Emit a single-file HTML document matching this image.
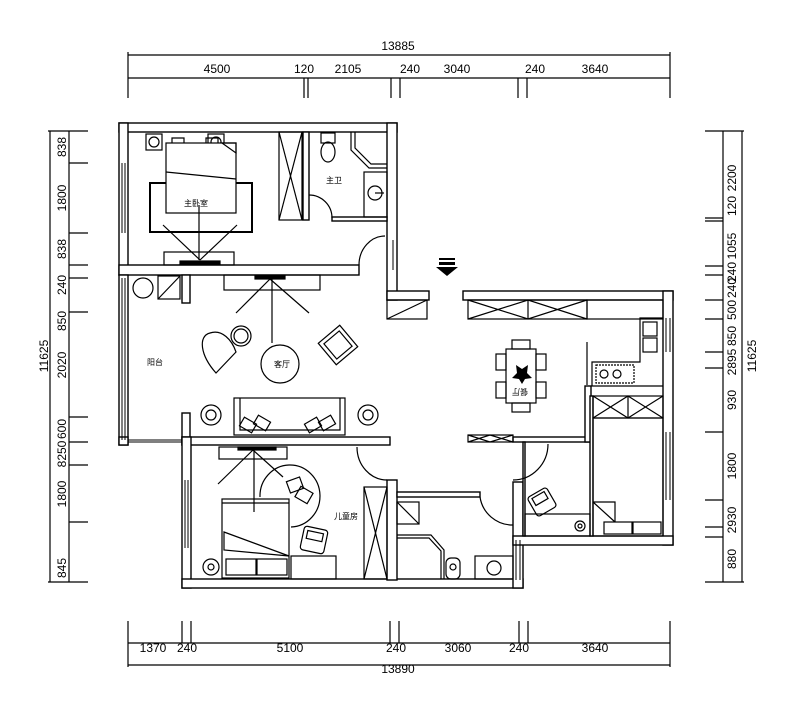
<!DOCTYPE html>
<html><head><meta charset="utf-8"><style>
body{margin:0;background:#fff}
svg{display:block}
text{font-family:"Liberation Sans","Noto Sans CJK SC",sans-serif;fill:#000}
</style></head><body>
<svg width="800" height="721" viewBox="0 0 800 721" xmlns="http://www.w3.org/2000/svg">
<g stroke="#000" stroke-width="1.2" fill="none">
<line x1="128" y1="55" x2="670" y2="55"/><line x1="128" y1="78" x2="670" y2="78"/>
<line x1="128" y1="52" x2="128" y2="98"/><line x1="670" y1="52" x2="670" y2="98"/>
<line x1="304" y1="78" x2="304" y2="98"/><line x1="308" y1="78" x2="308" y2="98"/>
<line x1="391" y1="78" x2="391" y2="98"/><line x1="400" y1="78" x2="400" y2="98"/>
<line x1="518" y1="78" x2="518" y2="98"/><line x1="527" y1="78" x2="527" y2="98"/>
<line x1="128" y1="643" x2="670" y2="643"/><line x1="128" y1="665" x2="670" y2="665"/>
<line x1="128" y1="621" x2="128" y2="667"/><line x1="670" y1="621" x2="670" y2="667"/>
<line x1="182" y1="621" x2="182" y2="643"/><line x1="191" y1="621" x2="191" y2="643"/>
<line x1="390" y1="621" x2="390" y2="643"/><line x1="399" y1="621" x2="399" y2="643"/>
<line x1="519" y1="621" x2="519" y2="643"/><line x1="528" y1="621" x2="528" y2="643"/>
<line x1="50" y1="131" x2="50" y2="582"/><line x1="69" y1="131" x2="69" y2="582"/>
<g>
<line x1="48" y1="131" x2="88" y2="131"/><line x1="48" y1="582" x2="88" y2="582"/>
<line x1="69" y1="163" x2="88" y2="163"/><line x1="69" y1="233" x2="88" y2="233"/>
<line x1="69" y1="265" x2="88" y2="265"/><line x1="69" y1="278" x2="88" y2="278"/>
<line x1="69" y1="312" x2="88" y2="312"/><line x1="69" y1="417" x2="88" y2="417"/>
<line x1="69" y1="442" x2="88" y2="442"/><line x1="69" y1="465" x2="88" y2="465"/>
<line x1="69" y1="522" x2="88" y2="522"/>
</g>
<line x1="723" y1="131" x2="723" y2="582"/><line x1="742" y1="131" x2="742" y2="582"/>
<line x1="705" y1="131" x2="744" y2="131"/><line x1="705" y1="582" x2="744" y2="582"/>
<line x1="705" y1="218" x2="723" y2="218"/><line x1="705" y1="221" x2="723" y2="221"/>
<line x1="705" y1="266" x2="723" y2="266"/><line x1="705" y1="275" x2="723" y2="275"/>
<line x1="705" y1="300" x2="723" y2="300"/><line x1="705" y1="319" x2="723" y2="319"/>
<line x1="705" y1="352" x2="723" y2="352"/><line x1="705" y1="368" x2="723" y2="368"/>
<line x1="705" y1="432" x2="723" y2="432"/><line x1="705" y1="500" x2="723" y2="500"/>
<line x1="705" y1="527" x2="723" y2="527"/><line x1="705" y1="537" x2="723" y2="537"/>
</g>
<g font-size="12" text-anchor="middle">
<text x="398" y="50">13885</text>
<text x="217" y="73">4500</text><text x="304" y="73">120</text><text x="348" y="73">2105</text>
<text x="410" y="73">240</text><text x="457" y="73">3040</text><text x="535" y="73">240</text><text x="595" y="73">3640</text>
<text x="153" y="652">1370</text><text x="187" y="652">240</text><text x="290" y="652">5100</text>
<text x="396" y="652">240</text><text x="458" y="652">3060</text><text x="519" y="652">240</text><text x="595" y="652">3640</text>
<text x="398" y="673">13890</text>
</g>
<g font-size="12" text-anchor="middle">
<g transform="translate(66,0)">
<text transform="translate(0,147) rotate(-90)">838</text><text transform="translate(0,198) rotate(-90)">1800</text>
<text transform="translate(0,249) rotate(-90)">838</text><text transform="translate(0,285) rotate(-90)">240</text>
<text transform="translate(0,321) rotate(-90)">850</text><text transform="translate(0,365) rotate(-90)">2020</text>
<text transform="translate(0,429) rotate(-90)">600</text><text transform="translate(0,454) rotate(-90)">8250</text>
<text transform="translate(0,494) rotate(-90)">1800</text><text transform="translate(0,568) rotate(-90)">845</text>
</g>
<text transform="translate(48,356) rotate(-90)">11625</text>
<g transform="translate(736,0)">
<text transform="translate(0,178) rotate(-90)">2200</text><text transform="translate(0,206) rotate(-90)">120</text>
<text transform="translate(0,246) rotate(-90)">1055</text><text transform="translate(0,272) rotate(-90)">240</text>
<text transform="translate(0,288) rotate(-90)">240</text><text transform="translate(0,310) rotate(-90)">500</text>
<text transform="translate(0,336) rotate(-90)">850</text><text transform="translate(0,362) rotate(-90)">2895</text>
<text transform="translate(0,400) rotate(-90)">930</text><text transform="translate(0,466) rotate(-90)">1800</text>
<text transform="translate(0,520) rotate(-90)">2930</text><text transform="translate(0,559) rotate(-90)">880</text>
</g>
<text transform="translate(756,356) rotate(-90)">11625</text>
</g>

<g stroke="#000" stroke-width="1.4" fill="#fff">
<rect x="119" y="123" width="278" height="9"/>
<rect x="119" y="123" width="9" height="152"/>
<rect x="387" y="123" width="10" height="177"/>
<rect x="119" y="265" width="240" height="10"/>
<rect x="303" y="132" width="6" height="88"/>
<rect x="332" y="217" width="55" height="4"/>
<rect x="119" y="275" width="9" height="170"/>
<rect x="119" y="437" width="9" height="8"/>
<rect x="182" y="275" width="8" height="28"/>
<rect x="182" y="413" width="8" height="32"/>
<rect x="182" y="437" width="208" height="8"/>
<rect x="182" y="437" width="9" height="151"/>
<rect x="182" y="579" width="341" height="9"/>
<rect x="387" y="480" width="10" height="100"/>
<rect x="397" y="492" width="83" height="5"/>
<rect x="513" y="482" width="10" height="106"/>
<rect x="387" y="291" width="42" height="9"/>
<rect x="463" y="291" width="210" height="9"/>
<rect x="663" y="291" width="10" height="254"/>
<rect x="513" y="536" width="160" height="9"/>
<rect x="513" y="437" width="77" height="5"/>
<rect x="585" y="386" width="6" height="56"/>
<rect x="590" y="396" width="3" height="140"/>
<rect x="523" y="442" width="2" height="94"/>
</g>
<g stroke="#000" stroke-width="1" fill="none">
<line x1="122" y1="163" x2="122" y2="233"/><line x1="125" y1="163" x2="125" y2="233"/>
<line x1="122" y1="278" x2="122" y2="440"/><line x1="125" y1="278" x2="125" y2="440"/>
<line x1="128" y1="440" x2="182" y2="440"/><line x1="128" y1="442" x2="182" y2="442"/>
<line x1="185" y1="480" x2="185" y2="548"/><line x1="188" y1="480" x2="188" y2="548"/>
<line x1="666" y1="318" x2="666" y2="352"/><line x1="670" y1="318" x2="670" y2="352"/>
<line x1="666" y1="432" x2="666" y2="500"/><line x1="670" y1="432" x2="670" y2="500"/>
<line x1="516" y1="540" x2="516" y2="580"/><line x1="520" y1="540" x2="520" y2="580"/>
<line x1="393" y1="240" x2="393" y2="270"/>
</g>

<g stroke="#000" stroke-width="1.2" fill="none">
<rect x="146" y="134" width="16" height="16"/><circle cx="154" cy="142" r="5"/>
<rect x="208" y="134" width="16" height="16"/><circle cx="216" cy="142" r="5"/>
<rect x="150" y="183" width="102" height="49" stroke-width="2"/>
<rect x="166" y="143" width="70" height="70" fill="#fff"/>
<path d="M172 143 v-5 h12 v5 M206 143 v-5 h12 v5"/>
<line x1="166" y1="172" x2="236" y2="179"/>
<path d="M222 143 l14 10 v-10z"/>
<rect x="164" y="252" width="70" height="13"/>
<line x1="200" y1="260" x2="163" y2="225"/><line x1="200" y1="260" x2="237" y2="225"/><line x1="199" y1="260" x2="199" y2="205"/>
<rect x="180" y="261" width="40" height="3" fill="#000"/>
<rect x="279" y="132" width="23" height="88"/><line x1="279" y1="132" x2="302" y2="220"/><line x1="302" y1="132" x2="279" y2="220"/>
<rect x="321" y="133" width="14" height="10"/><ellipse cx="328" cy="152" rx="7" ry="10"/>
<path d="M351 132 v18 l18 18 h18" /><path d="M355 132 v16 l16 16 h16"/>
<rect x="364" y="172" width="23" height="45"/><circle cx="375" cy="193" r="7"/><line x1="375" y1="193" x2="384" y2="193"/>
<path d="M309 195 a23 23 0 0 1 23 23"/>
<path d="M359 265 a26 29 0 0 1 26 -29"/>
<circle cx="143" cy="288" r="10"/><rect x="158" y="276" width="22" height="23"/><line x1="158" y1="299" x2="180" y2="276"/>
<rect x="224" y="275" width="96" height="15"/><rect x="255" y="276" width="30" height="3" fill="#000"/>
<line x1="270" y1="279" x2="236" y2="313"/><line x1="270" y1="279" x2="309" y2="313"/><line x1="272" y1="279" x2="272" y2="343"/>
<circle cx="280" cy="364" r="19"/>
<circle cx="241" cy="336" r="10"/><circle cx="241" cy="336" r="7"/>
<path d="M216 373 C200 355 198 336 210 333 C222 329 232 340 236 352 Z"/>
<g transform="translate(338,345) rotate(-40)"><rect x="-14" y="-14" width="28" height="28"/><rect x="-10" y="-10" width="20" height="20"/></g>
<rect x="234" y="398" width="111" height="37"/>
<path d="M240 398 v32 h100 v-32"/>
<g transform="translate(248,425) rotate(30)"><rect x="-7" y="-5" width="14" height="10"/></g>
<g transform="translate(262,423) rotate(30)"><rect x="-7" y="-5" width="14" height="10"/></g>
<g transform="translate(313,425) rotate(-30)"><rect x="-7" y="-5" width="14" height="10"/></g>
<g transform="translate(327,423) rotate(-30)"><rect x="-7" y="-5" width="14" height="10"/></g>
<circle cx="211" cy="415" r="10"/><circle cx="211" cy="415" r="5"/>
<circle cx="368" cy="415" r="10"/><circle cx="368" cy="415" r="5"/>
<rect x="219" y="447" width="68" height="12"/><rect x="238" y="447" width="38" height="3" fill="#000"/>
<line x1="253" y1="450" x2="218" y2="484"/><line x1="253" y1="450" x2="283" y2="477"/><line x1="254" y1="450" x2="254" y2="512"/>
<path d="M260 497 A30 31 0 1 1 291 527"/>
<g transform="translate(295,485) rotate(-20)"><rect x="-7" y="-6" width="14" height="12"/></g>
<g transform="translate(304,495) rotate(30)"><rect x="-7" y="-6" width="14" height="12"/></g>
<rect x="222" y="499" width="67" height="79"/><line x1="222" y1="503" x2="289" y2="503"/>
<path d="M224 532 L289 556 L224 550 Z"/>
<rect x="226" y="559" width="30" height="16"/><rect x="257" y="559" width="30" height="16"/>
<circle cx="211" cy="567" r="8"/><circle cx="211" cy="567" r="3"/>
<rect x="291" y="556" width="45" height="23"/>
<g transform="translate(314,540) rotate(12)"><rect x="-12" y="-12" width="24" height="24" rx="3"/><rect x="-8" y="-8" width="16" height="8"/></g>
<rect x="364" y="487" width="23" height="92"/><line x1="364" y1="487" x2="387" y2="579"/><line x1="387" y1="487" x2="364" y2="579"/>
<path d="M357 447 a30 33 0 0 0 30 33"/>
<rect x="387" y="300" width="40" height="19"/><line x1="387" y1="319" x2="427" y2="300"/>
<rect x="468" y="300" width="119" height="19"/>
<path d="M468 300 L528 319 L587 300 M468 319 L528 300 L587 319"/><line x1="528" y1="300" x2="528" y2="319"/>
<rect x="587" y="300" width="76" height="19"/>
<path d="M663 318 h-23 v44 h-48 v24 h71"/>
<rect x="643" y="322" width="14" height="14"/><rect x="643" y="338" width="14" height="14"/>
<rect x="596" y="365" width="38" height="18" stroke-dasharray="2 1"/><circle cx="604" cy="374" r="4"/><circle cx="617" cy="374" r="4"/>
<line x1="587" y1="342" x2="587" y2="385"/>
<rect x="506" y="349" width="30" height="54"/>
<rect x="512" y="340" width="18" height="9"/><rect x="512" y="403" width="18" height="9"/>
<rect x="496" y="354" width="10" height="16"/><rect x="496" y="382" width="10" height="16"/>
<rect x="536" y="354" width="10" height="16"/><rect x="536" y="382" width="10" height="16"/>
<rect x="593" y="396" width="70" height="22"/>
<path d="M593 396 L628 418 L663 396 M593 418 L628 396 L663 418"/><line x1="628" y1="396" x2="628" y2="418"/>
<rect x="593" y="418" width="70" height="118"/>
<line x1="593" y1="502" x2="615" y2="522"/><path d="M593 502 h22 v20"/>
<rect x="604" y="522" width="28" height="12"/><rect x="633" y="522" width="28" height="12"/>
<rect x="468" y="435" width="45" height="7"/><path d="M468 435 L490 442 L513 435 M468 442 L490 435 L513 442"/>
<path d="M513 480 a35 36 0 0 0 35 -36"/>
<rect x="525" y="514" width="65" height="22"/>
<circle cx="580" cy="526" r="5"/><circle cx="580" cy="526" r="2"/>
<g transform="translate(542,502) rotate(-30)"><rect x="-11" y="-11" width="22" height="22" rx="3"/><rect x="-7" y="-8" width="14" height="8"/></g>
<path d="M480 497 a33 33 0 0 0 33 28"/>
<rect x="397" y="502" width="22" height="22"/><line x1="397" y1="502" x2="419" y2="524"/>
<path d="M397 535 h34 l13 15 v29" /><path d="M397 538 h32 l12 13 v28"/>
<rect x="446" y="558" width="14" height="21" rx="5"/><circle cx="453" cy="567" r="3"/>
<rect x="475" y="556" width="38" height="23"/><circle cx="494" cy="568" r="7"/>
</g>
<g fill="#000">
<path d="M516 365 l6 4 l6 -4 l-1 8 l5 5 l-7 1 l-3 5 l-3 -5 l-7 -1 l5 -5z"/>
<rect x="439" y="258" width="16" height="2"/><rect x="439" y="262" width="16" height="3"/>
<path d="M436 267 h22 l-11 9z"/>
</g>
<g font-size="8" text-anchor="middle">
<text x="196" y="206">主卧室</text>
<text x="334" y="183">主卫</text>
<text x="155" y="365">阳台</text>
<text x="282" y="367">客厅</text>
<text x="520" y="395" transform="rotate(180 520 392)">餐厅</text>
<text x="346" y="519">儿童房</text>
</g>
</svg>
</body></html>
